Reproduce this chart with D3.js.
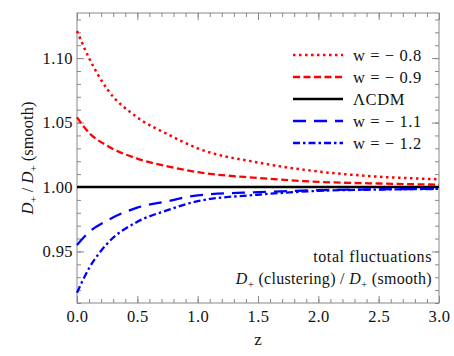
<!DOCTYPE html>
<html>
<head>
<meta charset="utf-8">
<script src="https://cdn.jsdelivr.net/npm/d3@7"></script>
<style>
  body { margin: 0; background: #fff; }
  svg, svg text { font-family: "Liberation Serif", "Times New Roman", Times, serif !important; }
  text { fill: #111; }
</style>
</head>
<body>
<script>
// redshift grid and the five growth ratios
var zs      = [0, 0.1, 0.25, 0.5, 0.75, 1.0, 1.5, 2.0, 2.5, 3.0];
var wm08    = [1.121, 1.100, 1.076, 1.054, 1.041, 1.030, 1.019, 1.012, 1.008, 1.006];
var wm09    = [1.054, 1.042, 1.032, 1.022, 1.016, 1.0115, 1.007, 1.004, 1.0027, 1.0018];
var lcdm    = [1, 1, 1, 1, 1, 1, 1, 1, 1, 1];
var wm11    = [0.955, 0.965, 0.974, 0.984, 0.989, 0.9935, 0.996, 0.9975, 0.9982, 0.9986];
var wm12    = [0.918, 0.937, 0.956, 0.973, 0.982, 0.989, 0.994, 0.997, 0.998, 0.9985];

var seriesNames = ["w = \u2212 0.8", "w = \u2212 0.9", "\u039BCDM", "w = \u2212 1.1", "w = \u2212 1.2"];
var seriesData  = [wm08, wm09, lcdm, wm11, wm12];
var seriesColor = ["#ff0000", "#ff0000", "#000000", "#0000ff", "#0000ff"];
var seriesDash  = ["2.5,3.5", "7,3.5", null, "13,8", "7,3,2.5,3"];
var seriesWidth = [2.5, 2.3, 2.5, 2.3, 2.3];

var xTicks = [0, 0.5, 1.0, 1.5, 2.0, 2.5, 3.0];
var yTicks = [0.95, 1.00, 1.05, 1.10];

var width = 454, height = 356;
var margin = {top: 13, right: 15, bottom: 53, left: 77};
var w = width - margin.left - margin.right,
    h = height - margin.top - margin.bottom;

var svg = d3.select('body').append('svg')
    .attr('width', width)
    .attr('height', height);

var g = svg.append('g')
    .attr('transform', 'translate(' + margin.left + ',' + margin.top + ')');

var x = d3.scaleLinear().domain([0, 3]).range([0, w]);
var y = d3.scaleLinear().domain([0.91, 1.135]).range([h, 0]);

var xMinor = d3.range(0, 3.001, 0.1);
var yMinor = d3.range(0.91, 1.1351, 0.01);

function styleAxis(sel) {
    sel.attr('font-family', null);
    sel.select('.domain').remove();
    sel.selectAll('line').attr('stroke', '#888').attr('stroke-width', 1);
    sel.selectAll('text').attr('font-size', 16.5).attr('letter-spacing', 0.4).attr('fill', '#111');
}

// minor ticks, all four sides
g.append('g').attr('transform', 'translate(0,' + h + ')')
    .call(d3.axisBottom(x).tickValues(xMinor).tickSize(-4).tickFormat('')).call(styleAxis);
g.append('g')
    .call(d3.axisTop(x).tickValues(xMinor).tickSize(-4).tickFormat('')).call(styleAxis);
g.append('g')
    .call(d3.axisLeft(y).tickValues(yMinor).tickSize(-4).tickFormat('')).call(styleAxis);
g.append('g').attr('transform', 'translate(' + w + ',0)')
    .call(d3.axisRight(y).tickValues(yMinor).tickSize(-4).tickFormat('')).call(styleAxis);

// major ticks
g.append('g').attr('transform', 'translate(0,' + h + ')')
    .call(d3.axisBottom(x).tickValues(xTicks).tickSize(-7).tickPadding(7).tickFormat(d3.format('.1f')))
    .call(styleAxis);
g.append('g')
    .call(d3.axisTop(x).tickValues(xTicks).tickSize(-7).tickFormat('')).call(styleAxis);
g.append('g')
    .call(d3.axisLeft(y).tickValues(yTicks).tickSize(-7).tickPadding(4).tickFormat(d3.format('.2f')))
    .call(styleAxis);
g.append('g').attr('transform', 'translate(' + w + ',0)')
    .call(d3.axisRight(y).tickValues(yTicks).tickSize(-7).tickFormat('')).call(styleAxis);

g.append('rect')
    .attr('width', w).attr('height', h)
    .attr('fill', 'none').attr('stroke', '#888').attr('stroke-width', 1);

// curves
var line = d3.line()
    .x(function(d, i) { return x(zs[i]); })
    .y(function(d) { return y(d); })
    .curve(d3.curveMonotoneX);

g.append('g')
    .selectAll('path')
    .data(seriesData)
    .enter().append('path')
    .attr('d', line)
    .attr('fill', 'none')
    .attr('stroke', function(d, i) { return seriesColor[i]; })
    .attr('stroke-width', function(d, i) { return seriesWidth[i]; })
    .attr('stroke-dasharray', function(d, i) { return seriesDash[i]; });

// legend
var legend = svg.append('g').selectAll('g')
    .data(seriesNames)
    .enter().append('g')
    .attr('transform', function(d, i) { return 'translate(293,' + (55 + i * 22) + ')'; });

legend.append('line')
    .attr('x1', 0).attr('x2', 50)
    .attr('stroke', function(d, i) { return seriesColor[i]; })
    .attr('stroke-width', function(d, i) { return seriesWidth[i]; })
    .attr('stroke-dasharray', function(d, i) { return seriesDash[i]; });

legend.append('text')
    .attr('x', 60).attr('y', 5.5)
    .attr('font-size', 16.5)
    .attr('letter-spacing', 0.6)
    .text(function(d) { return d; });

// axis titles
svg.append('text')
    .attr('x', margin.left + w / 2).attr('y', 345)
    .attr('text-anchor', 'middle').attr('font-size', 17)
    .text('z');

var yl = svg.append('text')
    .attr('transform', 'translate(33,' + (margin.top + h / 2) + ') rotate(-90)')
    .attr('text-anchor', 'middle').attr('font-size', 16.5);
yl.append('tspan').attr('font-style', 'italic').text('D');
yl.append('tspan').attr('font-size', 11).attr('dy', 4).text('+');
yl.append('tspan').attr('dy', -4).text(' / ');
yl.append('tspan').attr('font-style', 'italic').text('D');
yl.append('tspan').attr('font-size', 11).attr('dy', 4).text('+');
yl.append('tspan').attr('dy', -4).text(' (smooth)');

// annotation
svg.append('text')
    .attr('x', 432).attr('y', 262)
    .attr('text-anchor', 'end').attr('font-size', 16)
    .attr('letter-spacing', 0.6)
    .text('total fluctuations');

var an = svg.append('text')
    .attr('x', 432).attr('y', 284)
    .attr('text-anchor', 'end').attr('font-size', 16)
    .attr('letter-spacing', 0.3);
an.append('tspan').attr('font-style', 'italic').text('D');
an.append('tspan').attr('font-size', 11).attr('dy', 4).text('+');
an.append('tspan').attr('dy', -4).text(' (clustering) / ');
an.append('tspan').attr('font-style', 'italic').text('D');
an.append('tspan').attr('font-size', 11).attr('dy', 4).text('+');
an.append('tspan').attr('dy', -4).text(' (smooth)');
</script>
</body>
</html>
